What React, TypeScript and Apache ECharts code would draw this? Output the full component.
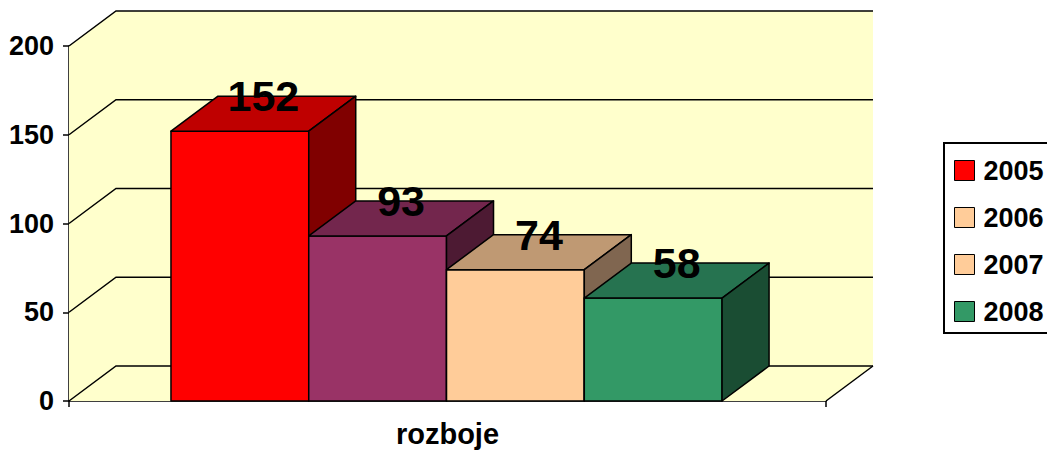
import React, { useEffect, useRef } from 'react';
import * as echarts from 'echarts';

const categories = ['rozboje'];
const years = ['2005', '2006', '2007', '2008'];
const values = [152, 93, 74, 58];
const frontColors = ['#FF0000', '#993366', '#FFCC99', '#339966'];
const topColors = ['#BF0000', '#73264D', '#BF9973', '#267350'];
const sideColors = ['#800000', '#4D1A33', '#806650', '#1A4D33'];
const legendColors = ['#FF0000', '#FFCC99', '#FFCC99', '#339966'];
const yTicks = [0, 50, 100, 150, 200];

const DX = 47;
const DY = -35;
const WALL = '#FFFFCC';
const BAR_RATIO = 0.182;
const OFFSET_RATIO = 0.1347;
const FONT = '"Liberation Sans", Arial, sans-serif';

export default function App() {
  const ref = useRef<HTMLDivElement>(null);
  useEffect(() => {
    document.body.style.margin = '0';
    const chart = echarts.init(ref.current!, null, { renderer: 'svg' });

    const wallSeries: any = {
      type: 'custom',
      name: 'walls',
      silent: true,
      z: 1,
      data: [[0, yTicks[yTicks.length - 1]]],
      renderItem: (params: any, api: any) => {
        const c0 = api.coord([0, 0]);
        const band = api.size([1, 0])[0];
        const L = c0[0] - band / 2;
        const R = c0[0] + band / 2;
        const y0 = c0[1];
        const yTop = api.coord([0, api.value(1)])[1];
        const children: any[] = [
          { type: 'polygon', shape: { points: [[L + DX, yTop + DY], [R + DX, yTop + DY], [R + DX, y0 + DY], [L + DX, y0 + DY]] }, style: { fill: WALL } },
          { type: 'polygon', shape: { points: [[L, yTop], [L + DX, yTop + DY], [L + DX, y0 + DY], [L, y0]] }, style: { fill: WALL } },
          { type: 'polygon', shape: { points: [[L, y0], [L + DX, y0 + DY], [R + DX, y0 + DY], [R, y0]] }, style: { fill: WALL } },
        ];
        yTicks.forEach((v) => {
          const y = api.coord([0, v])[1];
          children.push({
            type: 'polyline',
            shape: { points: [[L, y], [L + DX, y + DY], [R + DX, y + DY]] },
            style: { stroke: '#000', lineWidth: 1.5, fill: null },
          });
        });
        children.push({ type: 'line', shape: { x1: R + DX, y1: y0 + DY, x2: R, y2: y0 }, style: { stroke: '#000', lineWidth: 1.5 } });
        return { type: 'group', children };
      },
    };

    const barSeries: any[] = years.map((yr, i) => ({
      type: 'custom',
      name: yr,
      z: 2,
      itemStyle: { color: frontColors[i] },
      data: [[0, values[i]]],
      renderItem: (params: any, api: any) => {
        const v = api.value(1);
        const c0 = api.coord([api.value(0), 0]);
        const ct = api.coord([api.value(0), v]);
        const band = api.size([1, 0])[0];
        const L = c0[0] - band / 2;
        const bw = band * BAR_RATIO;
        const x0 = L + band * OFFSET_RATIO + i * bw;
        const x1 = x0 + bw;
        const yb = c0[1];
        const yt = ct[1];
        const stroke = { stroke: '#000', lineWidth: 1.5, lineJoin: 'round' };
        return {
          type: 'group',
          children: [
            { type: 'polygon', shape: { points: [[x0, yt], [x1, yt], [x1, yb], [x0, yb]] }, style: { fill: frontColors[i], ...stroke } },
            { type: 'polygon', shape: { points: [[x0, yt], [x0 + DX, yt + DY], [x1 + DX, yt + DY], [x1, yt]] }, style: { fill: topColors[i], ...stroke } },
            { type: 'polygon', shape: { points: [[x1, yt], [x1 + DX, yt + DY], [x1 + DX, yb + DY], [x1, yb]] }, style: { fill: sideColors[i], ...stroke } },
          ],
        };
      },
    }));

    const labelSeries: any = {
      type: 'custom',
      name: 'labels',
      silent: true,
      z: 3,
      data: values.map((v, i) => [0, v, i]),
      renderItem: (params: any, api: any) => {
        const v = api.value(1);
        const i = api.value(2);
        const c0 = api.coord([api.value(0), 0]);
        const ct = api.coord([api.value(0), v]);
        const band = api.size([1, 0])[0];
        const L = c0[0] - band / 2;
        const bw = band * BAR_RATIO;
        const cx = L + band * OFFSET_RATIO + i * bw + bw / 2;
        return {
          type: 'text',
          style: {
            text: String(v),
            x: cx + DX / 2,
            y: ct[1] + DY,
            align: 'center',
            verticalAlign: 'middle',
            fill: '#000',
            font: `bold 43px ${FONT}`,
          },
        };
      },
    };

    chart.setOption({
      animation: false,
      backgroundColor: '#FFFFFF',
      grid: { left: 69, right: 221, top: 46, bottom: 49 },
      legend: {
        orient: 'vertical',
        left: 944,
        top: 143,
        selectedMode: false,
        data: years.map((y, i) => ({ name: y, itemStyle: { color: legendColors[i], borderColor: '#000', borderWidth: 1 } })),
        icon: 'rect',
        itemWidth: 20,
        itemHeight: 20,
        itemGap: 20,
        padding: [14, 20, 8, 10],
        borderColor: '#000',
        borderWidth: 2,
        textStyle: { fontSize: 27, fontWeight: 'bold', color: '#000', fontFamily: FONT, padding: [0, 0, 0, 4] },
      },
      xAxis: {
        type: 'category',
        data: categories,
        axisLine: { show: true, lineStyle: { color: '#000', width: 1.5 } },
        axisTick: { show: true, length: 6, lineStyle: { color: '#000', width: 1.5 } },
        axisLabel: { margin: 18, fontSize: 29, fontWeight: 'bold', color: '#000', fontFamily: FONT },
        splitLine: { show: false },
      },
      yAxis: {
        type: 'value',
        min: 0,
        max: 200,
        interval: 50,
        axisLine: { show: true, lineStyle: { color: '#000', width: 1.5 } },
        axisTick: { show: true, length: 6, lineStyle: { color: '#000', width: 1.5 } },
        axisLabel: { margin: 15, fontSize: 27, fontWeight: 'bold', color: '#000', fontFamily: FONT },
        splitLine: { show: false },
      },
      series: [wallSeries, ...barSeries, labelSeries],
    });
    return () => chart.dispose();
  }, []);
  return <div ref={ref} style={{ width: 1047, height: 450 }} />;
}
